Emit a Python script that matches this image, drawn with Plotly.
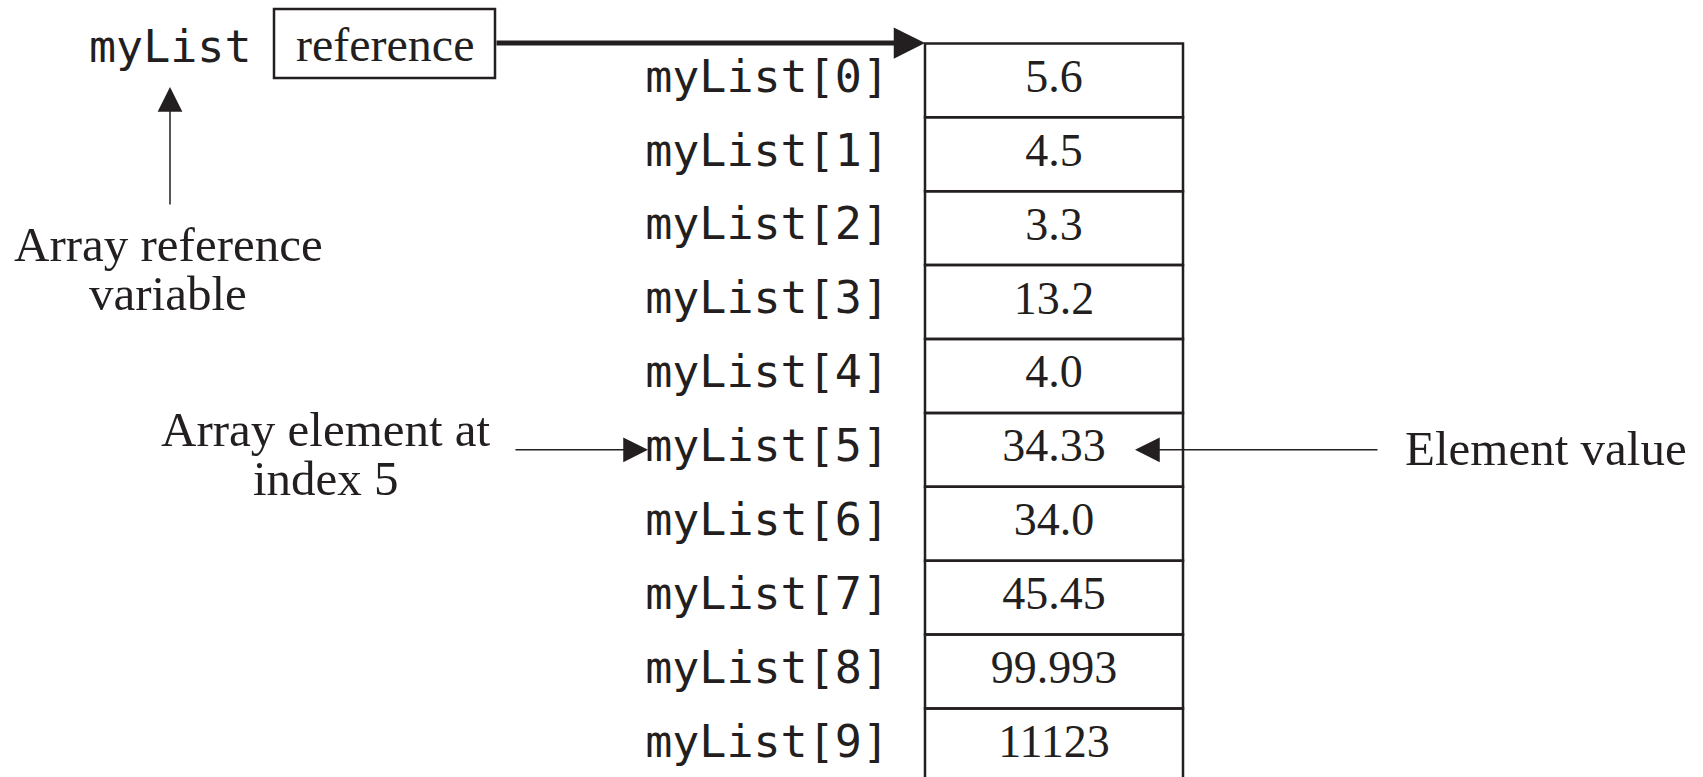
import plotly.graph_objects as go

# ---- data ----
labels = ["myList[0]", "myList[1]", "myList[2]", "myList[3]", "myList[4]",
          "myList[5]", "myList[6]", "myList[7]", "myList[8]", "myList[9]"]
values = ["5.6", "4.5", "3.3", "13.2", "4.0", "34.33", "34.0", "45.45", "99.993", "11123"]
highlight_index = 5
var_name = "myList"
ref_text = "reference"
left_note = ["Array reference", "variable"]
index_note = ["Array element at", "index 5"]
value_note = "Element value"

# ---- layout geometry (pixel-like coordinates) ----
W, H = 1703, 777
INK = "#231f20"
SERIF = "Liberation Serif, Times New Roman, serif"
MONO = "DejaVu Sans Mono, monospace"
box_l, box_r = 925, 1183
top, row_h = 43.4, 73.9
n = len(values)
centers = [top + row_h * (k + 0.5) for k in range(n)]
val_x = (box_l + box_r) / 2
lab_x = 889

fig = go.Figure()

# labels (monospace) and values (serif)
fig.add_trace(go.Scatter(
    x=[lab_x] * n, y=centers, mode="text", text=labels,
    textposition="middle left",
    textfont=dict(family=MONO, size=45, color=INK), hoverinfo="skip", showlegend=False))
fig.add_trace(go.Scatter(
    x=[val_x] * n, y=centers, mode="text", text=values,
    textposition="middle center",
    textfont=dict(family=SERIF, size=46, color=INK), hoverinfo="skip", showlegend=False))

shapes = []
# cells
for k in range(n):
    y0 = top + row_h * k
    shapes.append(dict(type="rect", xref="x", yref="y", x0=box_l, x1=box_r,
                       y0=y0, y1=y0 + row_h, line=dict(color=INK, width=2.5)))
# reference box
shapes.append(dict(type="rect", xref="x", yref="y", x0=274, x1=495, y0=9, y1=78,
                   line=dict(color=INK, width=2.5)))

ann = []
# variable name
ann.append(dict(x=87, y=46, text=var_name, showarrow=False, xanchor="left", yanchor="middle",
                font=dict(family=MONO, size=45, color=INK)))
ann.append(dict(x=384.5, y=44, text=ref_text, showarrow=False, xanchor="center", yanchor="middle",
                font=dict(family=SERIF, size=48, color=INK)))
# left note
for i, t in enumerate(left_note):
    ann.append(dict(x=168, y=244 + 49 * i, text=t, showarrow=False, xanchor="center", yanchor="middle",
                    font=dict(family=SERIF, size=49, color=INK)))
for i, t in enumerate(index_note):
    ann.append(dict(x=326, y=429 + 49 * i, text=t, showarrow=False, xanchor="center", yanchor="middle",
                    font=dict(family=SERIF, size=49, color=INK)))
ann.append(dict(x=1403, y=448, text=value_note, showarrow=False, xanchor="left", yanchor="middle",
                font=dict(family=SERIF, size=49, color=INK)))

# arrows
def arrow(x0, y0, x1, y1, width, size):
    return dict(x=x1, y=y1, ax=x0, ay=y0, xref="x", yref="y", axref="x", ayref="y",
                text="", showarrow=True, arrowhead=2, arrowwidth=width, arrowsize=size,
                arrowcolor=INK)

ann.append(arrow(495, 43, 925, 43, 5, 1.25))
ann.append(arrow(170, 206, 170, 87, 1.5, 3.3))
hy = centers[highlight_index]
ann.append(arrow(514, hy, 648, hy, 1.5, 3.3))
ann.append(arrow(1379, hy, 1135, hy, 1.5, 3.3))

fig.update_layout(
    width=W, height=H, margin=dict(l=0, r=0, t=0, b=0),
    paper_bgcolor="white", plot_bgcolor="white",
    xaxis=dict(range=[0, W], visible=False, fixedrange=True),
    yaxis=dict(range=[H, 0], visible=False, fixedrange=True),
    shapes=shapes, annotations=ann, showlegend=False,
)
fig.write_html("out.html", config={"displayModeBar": False},
               post_script="document.body.style.margin='0';document.body.style.overflow='hidden';")
